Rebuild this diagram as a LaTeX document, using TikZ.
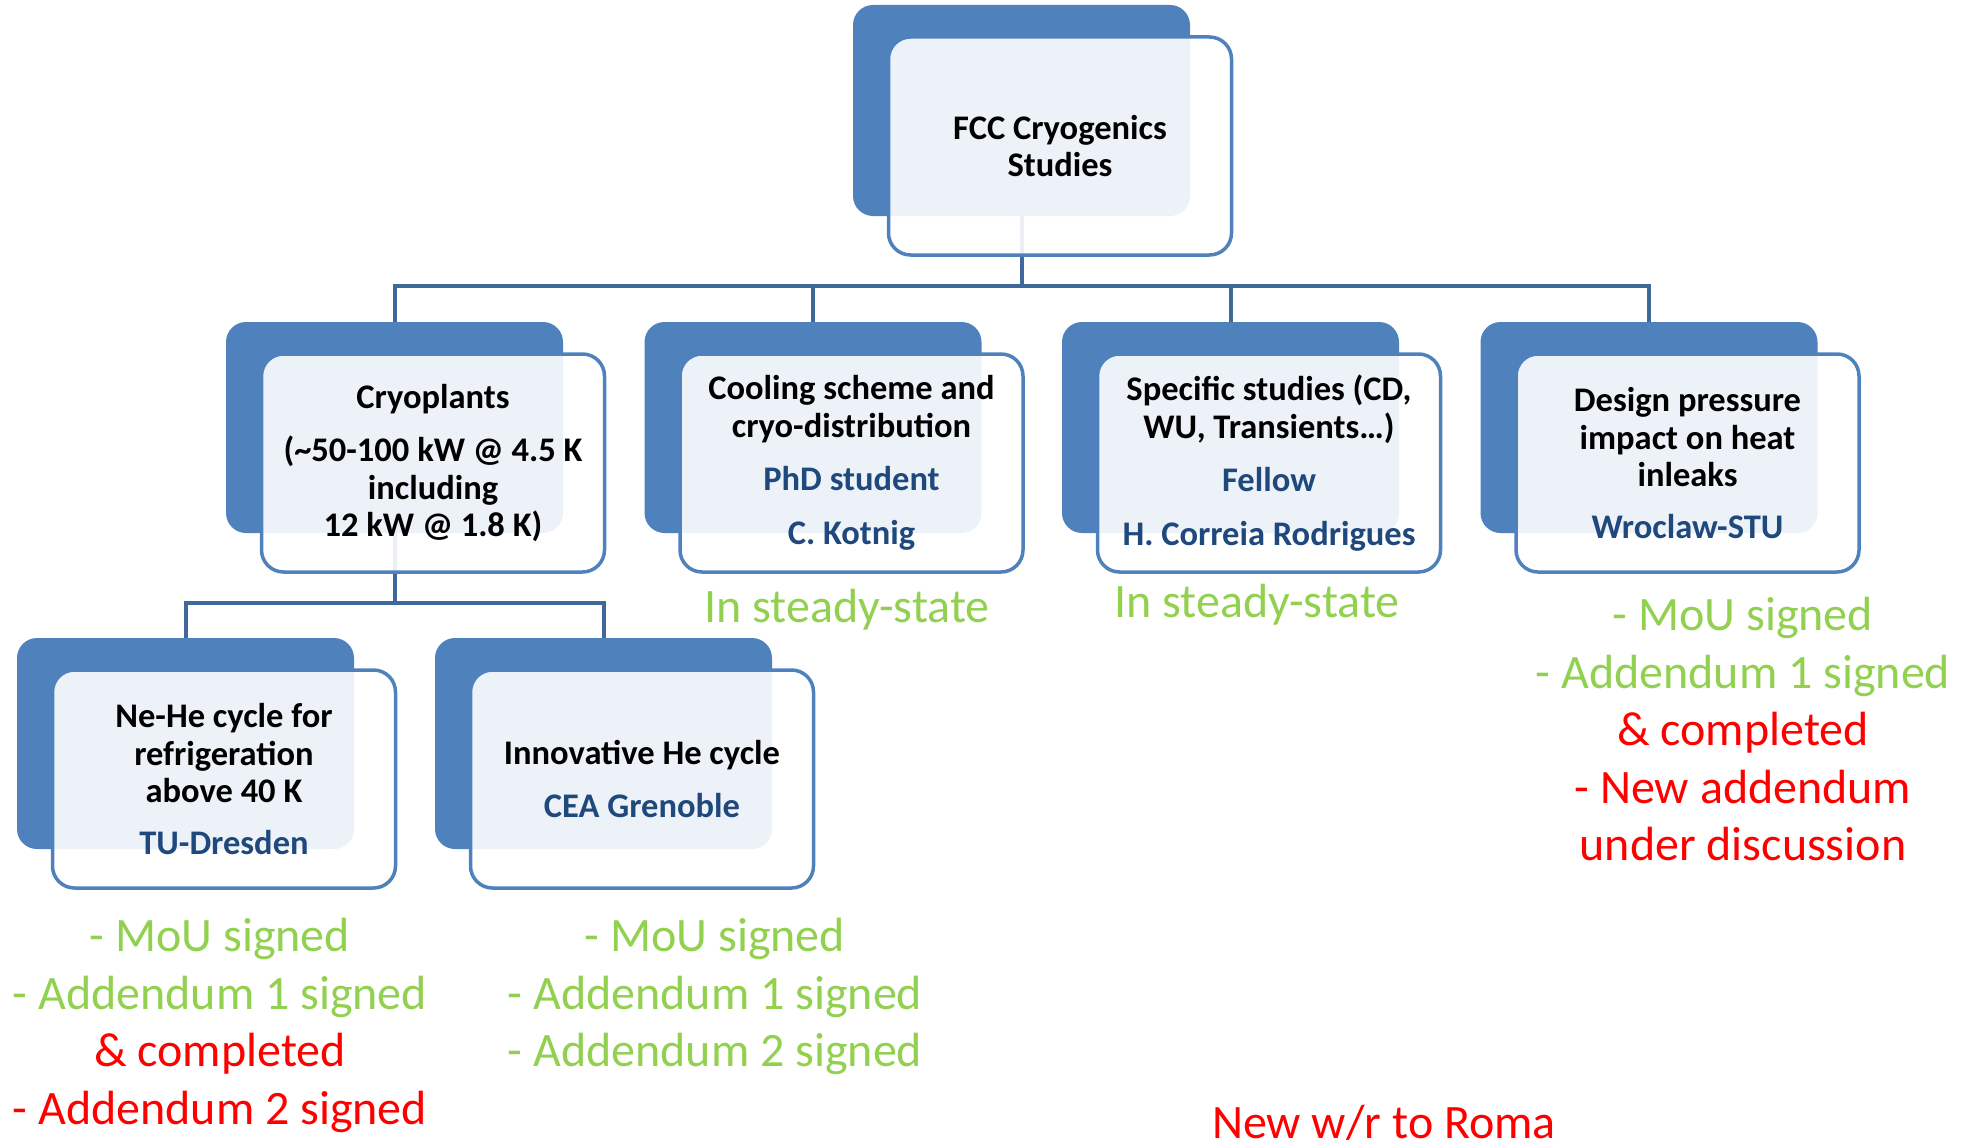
\documentclass[tikz,border=0pt]{standalone}
\usepackage{fontspec}
\setmainfont{Carlito}
\usetikzlibrary{backgrounds}
\definecolor{boxblue}{RGB}{79,129,189}
\definecolor{linkblue}{RGB}{64,104,155}
\definecolor{nameblue}{RGB}{31,73,125}
\definecolor{okgreen}{RGB}{146,208,80}
\definecolor{todored}{RGB}{255,0,0}
\newcommand{\boxtextfont}{\bfseries\fontsize{34.5}{37.5}\selectfont}
\newcommand{\statetextfont}{\fontsize{48}{57.5}\selectfont}

\begin{document}
\begin{tikzpicture}[x=1pt, y=-1pt,
  back/.style={fill=boxblue, rounded corners=20pt, minimum width=337pt, minimum height=211pt, inner sep=0pt},
  front/.style={draw=boxblue, line width=3.5pt, fill=white, fill opacity=0.9, text opacity=1,
    rounded corners=22pt, minimum width=343pt, minimum height=218pt, inner sep=0pt,
    align=center, font=\boxtextfont, xshift=38.5pt, yshift=-35.5pt},
  link/.style={linkblue, line width=4pt},
  state/.style={align=center, inner sep=0pt, font=\statetextfont}]

\useasboundingbox (0,0) rectangle (1970,1148);

% hintere Kaesten
\node[back] (fccB)  at (1021.5,110.5) {};
\node[back] (cryoB) at (394.5,427.5) {};
\node[back] (coolB) at (813,427.5) {};
\node[back] (specB) at (1230.5,427.5) {};
\node[back] (presB) at (1649,427.5) {};
\node[back] (neheB) at (185.5,743.5) {};
\node[back] (heB)   at (603.5,743.5) {};

% vordere Kaesten mit Text
\node[front] (fcc)  at (fccB)  {FCC Cryogenics\\Studies};
\node[front] (cryo) at (cryoB) {Cryoplants\\[16pt](\textasciitilde50-100 kW @ 4.5 K\\including\\12 kW @ 1.8 K)};
\node[front] (cool) at (coolB) {Cooling scheme and\\cryo-distribution\\[16pt]\textcolor{nameblue}{PhD student}\\[16pt]\textcolor{nameblue}{C. Kotnig}};
\node[front] (spec) at (specB) {Specific studies (CD,\\WU, Transients…)\\[16pt]\textcolor{nameblue}{Fellow}\\[16pt]\textcolor{nameblue}{H. Correia Rodrigues}};
\node[front] (pres) at (presB) {Design pressure\\impact on heat\\inleaks\\[14pt]\textcolor{nameblue}{Wroclaw-STU}};
\node[front] (nehe) at (neheB) {Ne-He cycle for\\refrigeration\\above 40 K\\[14pt]\textcolor{nameblue}{TU-Dresden}};
\node[front] (he)   at (heB)   {Innovative He cycle\\[15pt]\textcolor{nameblue}{CEA Grenoble}};

% Verbindungen unter den Kaesten
\coordinate (bus) at (1021.5,286);
\coordinate (subbus) at (394.5,603);
\begin{scope}[on background layer]
\foreach \k in {cryoB,coolB,specB,presB}
  \draw[link] (fccB.south) -- (bus) -| (\k.north);
\foreach \k in {neheB,heB}
  \draw[link] (cryoB.south) -- (subbus) -| (\k.north);
\end{scope}

% Stand der Arbeiten
\node[state, anchor=base, text=okgreen] (coolStat) at (847,622) {In steady-state};
\node[state, anchor=base, text=okgreen] (specStat) at (1257,617.5) {In steady-state};
\node[state, anchor=north] (neheStat) at (220,918) {\textcolor{okgreen}{- MoU signed}\\\textcolor{okgreen}{- Addendum 1 signed}\\\textcolor{todored}{\& completed}\\\textcolor{todored}{- Addendum 2 signed}};
\node[state, anchor=north] (heStat) at (715,918) {\textcolor{okgreen}{- MoU signed}\\\textcolor{okgreen}{- Addendum 1 signed}\\\textcolor{okgreen}{- Addendum 2 signed}};
\node[state, anchor=north] (presStat) at (1743,597) {\textcolor{okgreen}{- MoU signed}\\\textcolor{okgreen}{- Addendum 1 signed}\\\textcolor{todored}{\& completed}\\\textcolor{todored}{- New addendum}\\\textcolor{todored}{under discussion}};
\node[state, anchor=base, text=todored] (romaNote) at (1384,1138) {New w/r to Roma};

\end{tikzpicture}
\end{document}
